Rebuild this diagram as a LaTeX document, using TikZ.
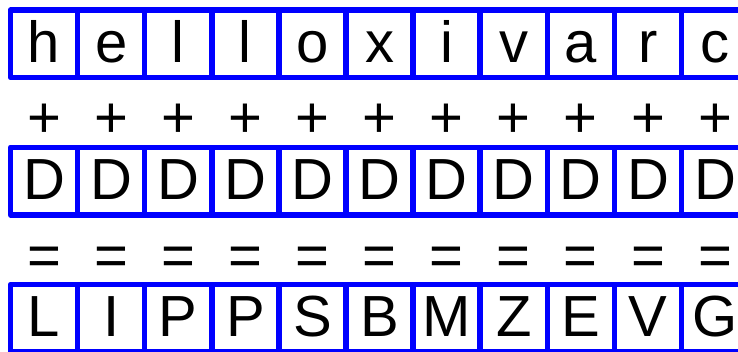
\documentclass[tikz,border=0pt]{standalone}
\usepackage{fontspec}
\setmainfont{Liberation Sans}
\begin{document}
\begin{tikzpicture}[x=1pt,y=-1pt,
  cell/.style={draw=blue, line width=5.5pt, line join=round, inner sep=0pt,
    minimum width=67.1pt, minimum height=67.5pt, text height=42pt, text depth=5.5pt,
    font=\fontsize{58}{60}\selectfont},
  sym/.style={inner sep=0pt, anchor=base, font=\fontsize{58}{60}\selectfont}]
\useasboundingbox (0,0) rectangle (738,351);
\foreach \ch [count=\i from 0] in {h,e,l,l,o,x,i,v,a,r,c}
  \node[cell] (a\i) at ({10.5+67.1*(\i+0.5)},43.75) {\ch};
\foreach \ch [count=\i from 0] in {D,D,D,D,D,D,D,D,D,D,D}
  \node[cell] (b\i) at ({10.5+67.1*(\i+0.5)},181.05) {\ch};
\foreach \ch [count=\i from 0] in {L,I,P,P,S,B,M,Z,E,V,G}
  \node[cell] (c\i) at ({10.5+67.1*(\i+0.5)},318.35) {\ch};
\foreach \i in {0,...,10} {
  \node[sym] (p\i) at ({10.5+67.1*(\i+0.5)},137.8) {+};
  \node[sym] (q\i) at ({10.5+67.1*(\i+0.5)},275.1) {=};
}
\end{tikzpicture}
\end{document}
